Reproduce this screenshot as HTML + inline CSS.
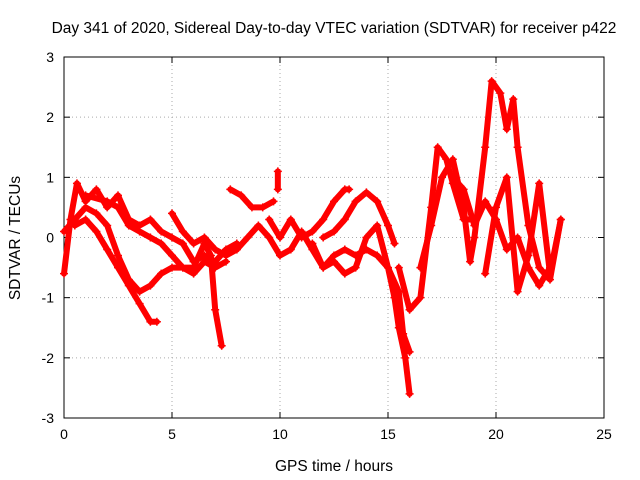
<!DOCTYPE html>
<html><head><meta charset="utf-8"><style>
html,body{margin:0;padding:0;background:#fff;}
svg{display:block;font-family:"Liberation Sans",sans-serif;}
</style></head><body>
<svg id="chart" width="640" height="480">
<text x="334" y="33" font-size="15.5" text-anchor="middle">Day 341 of 2020, Sidereal Day-to-day VTEC variation (SDTVAR) for receiver p422</text>
<g id="grid"></g><g id="axes"></g><g id="series"></g>
<text x="334" y="471" font-size="15.5" text-anchor="middle">GPS time / hours</text>
<text transform="translate(20,238) rotate(-90)" font-size="15.5" text-anchor="middle">SDTVAR / TECUs</text>
</svg>
<script>
const xTicks=[0,5,10,15,20,25];
const yTicks=[-3,-2,-1,0,1,2,3];
const trackA=[[0,-0.6],[0.3,0.3],[0.6,0.9],[1,0.6],[1.5,0.8],[2,0.5],[2.5,0.7],[3,0.3],[3.5,0.2],[4,0.3],[4.5,0.1],[5,0.0],[5.5,-0.1],[6,-0.4],[6.5,-0.3],[7,-0.4],[7.5,-0.2],[8,-0.1]];
const trackB=[[0,0.1],[0.5,0.3],[1,0.5],[1.5,0.4],[2,0.2],[2.5,-0.3],[3,-0.7],[3.5,-0.9],[4,-0.8],[4.5,-0.6],[5,-0.5],[5.5,-0.5],[6,-0.6],[6.5,-0.4],[7,-0.5],[7.5,-0.4]];
const trackC=[[0.5,0.2],[1,0.3],[1.5,0.1],[2,-0.2],[2.5,-0.5],[3,-0.8],[3.5,-1.1],[4,-1.4],[4.3,-1.4]];
const trackD=[[1,0.7],[2,0.6],[2.5,0.5],[3,0.2],[3.5,0.1],[4,0.0],[4.5,-0.1],[5,-0.3],[5.5,-0.5],[6,-0.5],[6.5,-0.1],[6.8,-0.3],[7,-1.2],[7.3,-1.8]];
const trackE=[[5,0.4],[5.5,0.1],[6,-0.1],[6.5,0.0],[7,-0.2],[7.5,-0.3],[8,-0.2]];
const trackF=[[7.7,0.8],[8.2,0.7],[8.7,0.5],[9.2,0.5],[9.7,0.6]];
const trackG=[[9.9,1.1],[9.9,0.8]];
const trackH=[[8,-0.2],[8.5,0.0],[9,0.2],[9.5,0.0],[10,-0.3],[10.5,-0.2],[11,0.1],[11.5,-0.2],[12,-0.5],[12.5,-0.3],[13,-0.2],[13.5,-0.3],[14,-0.2],[14.5,-0.3],[15,-0.5],[15.3,-1.0],[15.5,-1.5],[15.8,-2.0],[16,-2.6]];
const trackI=[[9.5,0.3],[10,0.0],[10.5,0.3],[11,0.0],[11.5,0.1],[12,0.3],[12.5,0.6],[13,0.8],[13.2,0.8]];
const trackJ=[[12,0.0],[12.5,0.1],[13,0.3],[13.5,0.6],[14,0.75],[14.5,0.6],[15,0.2],[15.3,-0.1]];
const trackK=[[11.5,-0.1],[12,-0.5],[12.5,-0.4],[13,-0.6],[13.5,-0.5],[14,0.0],[14.5,0.2],[15,-0.5],[15.5,-0.9],[15.7,-1.6],[16,-1.9]];
const trackL=[[15.5,-0.5],[16,-1.2],[16.5,-1.0],[17,0.5],[17.3,1.5],[17.7,1.3],[18,0.9],[18.5,0.3],[19,0.3]];
const trackM=[[16.5,-0.5],[17,0.2],[17.5,1.0],[18,1.3],[18.5,0.5],[18.8,-0.4],[19,0.0],[19.5,1.5],[19.8,2.6],[20.2,2.4],[20.5,1.8],[20.8,2.3],[21,1.5],[21.5,0.2],[22,-0.5],[22.5,-0.7],[23,0.3]];
const trackN=[[18,1.0],[18.5,0.8],[19,0.2],[19.5,0.6],[20,0.3],[20.5,-0.2],[21,0.0],[21.5,-0.5],[22,-0.8],[22.5,-0.5]];
const trackO=[[19.5,-0.6],[20,0.5],[20.5,1.0],[21,-0.9],[21.5,-0.3],[22,0.9],[22.5,-0.6],[23,0.3]];
const tracks=[trackA,trackB,trackC,trackD,trackE,trackF,trackG,trackH,trackI,trackJ,trackK,trackL,trackM,trackN,trackO];

const NS="http://www.w3.org/2000/svg";
const L=64,R=604,T=57,B=418;
const xs=v=>L+(v-0)/25*(R-L);
const ys=v=>B-(v+3)/6*(B-T);
function mk(tag,attrs,parent){const e=document.createElementNS(NS,tag);for(const k in attrs)e.setAttribute(k,attrs[k]);parent.appendChild(e);return e;}
const grid=document.getElementById('grid'),axes=document.getElementById('axes'),ser=document.getElementById('series');
xTicks.forEach(t=>{
  const x=xs(t);
  if(t>0&&t<25){const g=mk('line',{x1:x,x2:x,y1:T,y2:B,stroke:'#aaa','stroke-dasharray':'1,3'},grid);
  
  }
  mk('line',{x1:x,x2:x,y1:B,y2:B-6,stroke:'#000'},axes);
  mk('line',{x1:x,x2:x,y1:T,y2:T+6,stroke:'#000'},axes);
  const tx=mk('text',{x:x,y:B+21,'font-size':14,'text-anchor':'middle'},axes);tx.textContent=t;
  
  
});
yTicks.forEach(t=>{
  const y=ys(t);
  if(t>-3&&t<3){const g=mk('line',{x1:L,x2:R,y1:y,y2:y,stroke:'#aaa','stroke-dasharray':'1,3'},grid);
  
  }
  mk('line',{x1:L,x2:L+6,y1:y,y2:y,stroke:'#000'},axes);
  mk('line',{x1:R,x2:R-6,y1:y,y2:y,stroke:'#000'},axes);
  const tx=mk('text',{x:L-10,y:y+5,'font-size':14,'text-anchor':'end'},axes);tx.textContent=t;
  
  
});
const frame=mk('rect',{x:L,y:T,width:R-L,height:B-T,fill:'none',stroke:'#000'},axes);


tracks.forEach((tr,i)=>{
  const pl=mk('polyline',{points:tr.map(p=>xs(p[0])+','+ys(p[1])).join(' '),fill:'none',stroke:'#f00','stroke-width':6,'stroke-linejoin':'round','stroke-linecap':'round'},ser);
  
  
  tr.forEach(p=>{
    const x=xs(p[0]),y=ys(p[1]);
    const m=mk('path',{d:`M${x-4},${y}H${x+4}M${x},${y-4}V${y+4}`,stroke:'#f00','stroke-width':1.5},ser);
    
    
  });
});
</script>
</body></html>
